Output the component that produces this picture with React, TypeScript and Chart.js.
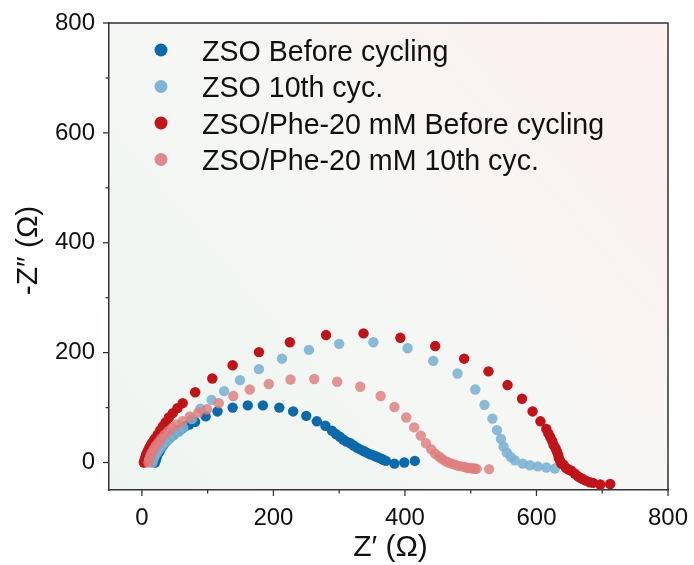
import React, { useEffect, useRef } from "react";
import { Chart, registerables } from "chart.js";

Chart.register(...registerables);

// Nyquist data, Z' (Ω) vs -Z'' (Ω)
const zsoBeforeX = [20, 21, 22, 23, 25, 27, 29, 32, 35, 38, 42, 46, 51, 56, 61, 66, 72, 81, 97, 115, 138, 161, 184, 209, 230, 250, 266, 279, 289, 295, 301, 306, 311, 317, 322, 327, 332, 337, 342, 347, 352, 356, 360, 364, 367, 371, 384, 399, 415];
const zsoBeforeY = [0, 4, 8, 12, 17, 21, 26, 31, 36, 40, 45, 49, 54, 58, 62, 66, 69, 74, 84, 93, 100, 104, 104, 100, 93, 85, 75, 67, 58, 52, 47, 42, 38, 35, 31, 27, 24, 21, 18, 15, 13, 11, 9, 7, 5, 3, -2, 0, 3];

const zso10thX = [16, 17, 19, 21, 24, 27, 31, 36, 42, 49, 56, 63, 76, 89, 106, 125, 149, 178, 213, 254, 300, 352, 404, 443, 480, 507, 521, 533, 540, 546, 550, 555, 561, 567, 579, 590, 602, 615, 628];
const zso10thY = [0, 5, 10, 15, 20, 25, 31, 37, 43, 50, 56, 63, 79, 98, 114, 130, 150, 170, 189, 205, 216, 219, 208, 185, 162, 133, 105, 80, 59, 43, 29, 18, 10, 4, -2, -5, -7, -9, -11];

const phe20BeforeX = [3, 4, 5, 6, 7, 9, 11, 13, 15, 18, 20, 24, 28, 32, 36, 41, 47, 54, 62, 81, 107, 138, 178, 225, 280, 337, 393, 446, 490, 527, 556, 578, 594, 606, 615, 618, 621, 624, 626, 629, 631, 633, 634, 636, 638, 641, 645, 649, 653, 658, 663, 667, 670, 675, 681, 686, 697, 712];
const phe20BeforeY = [0, 4, 8, 12, 16, 21, 26, 30, 35, 40, 44, 51, 59, 66, 73, 82, 90, 99, 108, 128, 153, 177, 201, 219, 232, 235, 227, 212, 189, 166, 141, 116, 93, 75, 61, 53, 46, 39, 32, 26, 20, 14, 8, 3, -2, -4, -10, -13, -15, -20, -25, -28, -30, -33, -36, -37, -40, -39];

const phe2010thX = [10, 11, 13, 15, 18, 21, 25, 29, 34, 40, 46, 53, 62, 73, 86, 99, 117, 139, 164, 193, 226, 262, 297, 332, 363, 384, 402, 414, 424, 432, 440, 446, 452, 456, 461, 466, 471, 476, 481, 486, 491, 495, 499, 503, 506, 509, 528];
const phe2010thY = [0, 6, 12, 18, 24, 30, 36, 43, 50, 57, 63, 69, 75, 84, 91, 97, 108, 121, 133, 143, 151, 152, 147, 138, 121, 101, 82, 64, 49, 35, 24, 16, 11, 7, 3, 0, -2, -4, -6, -7, -8, -10, -10, -11, -11, -11.5, -12];

const seriesLabels = [
  "ZSO Before cycling",
  "ZSO 10th cyc.",
  "ZSO/Phe-20 mM Before cycling",
  "ZSO/Phe-20 mM 10th cyc.",
];
const seriesColors = [
  "rgb(12,105,170)",
  "rgba(122,178,212,0.88)",
  "rgb(192,20,25)",
  "rgba(222,126,126,0.82)",
];
const legendColors = ["#0c69aa", "#80b4d6", "#c01419", "#df8a8a"];

const xTickValues = [0, 200, 400, 600, 800];
const yTickValues = [0, 200, 400, 600, 800];
const minorTickValues = [100, 300, 500, 700];

const FONT = "'Liberation Sans', Arial, sans-serif";

const zip = (xs: number[], ys: number[]) => xs.map((x, i) => ({ x, y: ys[i] }));

const backgroundPlugin = {
  id: "plotBackground",
  beforeDraw(chart: any) {
    const { ctx, chartArea: a } = chart;
    ctx.save();
    const g = ctx.createLinearGradient(a.left, a.bottom, a.right, a.top);
    g.addColorStop(0, "#edf5f1");
    g.addColorStop(0.5, "#f6f7f5");
    g.addColorStop(1, "#fcf0ed");
    ctx.fillStyle = g;
    ctx.fillRect(a.left, a.top, a.right - a.left, a.bottom - a.top);
    ctx.restore();
  },
};

const decorPlugin = {
  id: "frameTicksLegend",
  afterDraw(chart: any) {
    const { ctx, chartArea: a, scales } = chart;
    const xs = scales.x;
    const ys = scales.y;
    ctx.save();
    ctx.strokeStyle = "#333";
    ctx.lineWidth = 1.5;
    ctx.beginPath();
    ctx.moveTo(a.left, a.top);
    ctx.lineTo(a.right, a.top);
    ctx.lineTo(a.right, a.bottom);
    ctx.stroke();

    // outward tick marks, long for labelled values, short for minor ones
    ctx.lineWidth = 1.3;
    const drawTicks = (vals: number[], len: number) => {
      vals.forEach((v) => {
        const px = xs.getPixelForValue(v);
        ctx.beginPath();
        ctx.moveTo(px, a.bottom);
        ctx.lineTo(px, a.bottom + len);
        ctx.stroke();
        const py = ys.getPixelForValue(v);
        ctx.beginPath();
        ctx.moveTo(a.left, py);
        ctx.lineTo(a.left - len, py);
        ctx.stroke();
      });
    };
    drawTicks(xTickValues, 6);
    drawTicks(minorTickValues, 3.5);

    // legend
    ctx.font = `28.6px ${FONT}`;
    ctx.textBaseline = "middle";
    ctx.textAlign = "left";
    seriesLabels.forEach((label, i) => {
      const cy = 50 + i * 36.5;
      ctx.fillStyle = legendColors[i];
      ctx.beginPath();
      ctx.arc(161, cy, 6.5, 0, Math.PI * 2);
      ctx.fill();
      ctx.fillStyle = "#111";
      ctx.fillText(label, 202, cy + 3);
    });

    // axis titles
    ctx.fillStyle = "#111";
    ctx.font = `30px ${FONT}`;
    ctx.textAlign = "center";
    ctx.textBaseline = "middle";
    ctx.fillText("Z\u2032 (\u03A9)", (a.left + a.right) / 2 + 2, 548);
    ctx.save();
    ctx.translate(29, (a.top + a.bottom) / 2 - 6);
    ctx.rotate(-Math.PI / 2);
    ctx.fillText("-Z\u2033 (\u03A9)", 0, 0);
    ctx.restore();
    ctx.restore();
  },
};

export default function App() {
  const canvasRef = useRef<HTMLCanvasElement | null>(null);

  useEffect(() => {
    if (!canvasRef.current) return;
    const pairs = [
      zip(zsoBeforeX, zsoBeforeY),
      zip(zso10thX, zso10thY),
      zip(phe20BeforeX, phe20BeforeY),
      zip(phe2010thX, phe2010thY),
    ];
    const drawOrder = [4, 3, 2, 1];
    const chart = new Chart(canvasRef.current, {
      type: "scatter",
      data: {
        datasets: pairs.map((data, i) => ({
          label: seriesLabels[i],
          data,
          backgroundColor: seriesColors[i],
          borderWidth: 0,
          pointRadius: 5.2,
          pointHoverRadius: 5.2,
          order: drawOrder[i],
        })),
      },
      options: {
        animation: false,
        responsive: false,
        maintainAspectRatio: false,
        layout: { padding: { top: 23, right: 26, left: 0, bottom: 0 } },
        plugins: { legend: { display: false }, tooltip: { enabled: false } },
        scales: {
          x: {
            type: "linear",
            min: -50,
            max: 800,
            afterBuildTicks: (s: any) => {
              s.ticks = xTickValues.map((value) => ({ value }));
            },
            afterFit: (s: any) => {
              s.height = 75;
              s.paddingLeft = 0;
              s.paddingRight = 0;
            },
            grid: { display: true, drawOnChartArea: false, drawTicks: false },
            border: { display: true, color: "#333", width: 1.5 },
            ticks: {
              padding: 14,
              color: "#111",
              font: { family: FONT, size: 24 },
              maxRotation: 0,
            },
          },
          y: {
            type: "linear",
            min: -50,
            max: 800,
            afterBuildTicks: (s: any) => {
              s.ticks = yTickValues.map((value) => ({ value }));
            },
            afterFit: (s: any) => {
              s.width = 109;
              s.paddingTop = 0;
              s.paddingBottom = 0;
            },
            grid: { display: true, drawOnChartArea: false, drawTicks: false },
            border: { display: true, color: "#333", width: 1.5 },
            ticks: {
              padding: 14,
              color: "#111",
              font: { family: FONT, size: 24 },
            },
          },
        },
      },
      plugins: [backgroundPlugin, decorPlugin],
    });
    return () => chart.destroy();
  }, []);

  return (
    <div style={{ position: "fixed", left: 0, top: 0, width: 694, height: 565, background: "#fff" }}>
      <canvas ref={canvasRef} width={694} height={565} style={{ display: "block" }} />
    </div>
  );
}
